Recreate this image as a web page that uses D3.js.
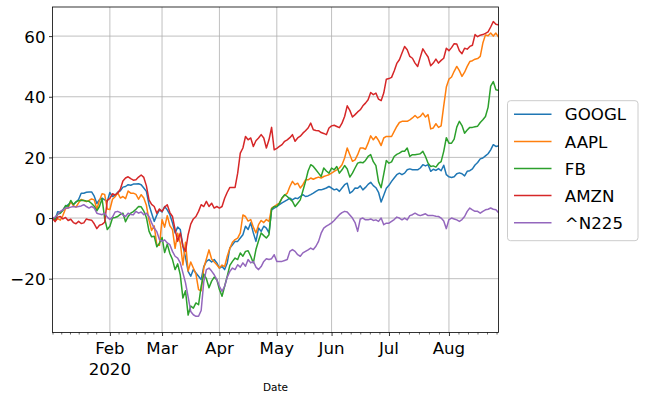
<!DOCTYPE html>
<html><head><meta charset="utf-8">
<script src="https://cdn.jsdelivr.net/npm/d3@7"></script>
<style>
body{margin:0;background:#fff}
svg{display:block}
text{font-family:"DejaVu Sans",sans-serif;fill:#000}
</style>
</head><body>
<svg id="chart" width="645" height="400"></svg>
<script>
// ---------- data (percent change since first day) ----------
const seriesNames = ["GOOGL", "AAPL", "FB", "AMZN", "^N225"];
const seriesColors = ["#1f77b4", "#ff7f0e", "#2ca02c", "#d62728", "#9467bd"];

const googl = [
 0,-0.5,2.1,1.9,2.7,3.7,4.4,5.2,4.5,5.2,6.1,8.2,8.2,8.5,8.6,8.6,7.2,4.8,6.1,6.6,6.0,5.5,
 8.4,7.1,7.5,8.5,9.0,10.2,10.4,11.0,10.8,11.2,11.2,11.3,11.0,9.9,8.8,4.4,1.6,-1.1,1.0,2.7,
 2.0,3.8,2.7,1.1,-1.6,-4.9,-3.0,-3.8,-9.3,-13.0,-17.6,-19.2,-17.0,-18.1,-19.2,-20.3,-16.0,-14.3,-13.7,-14.5,-13.7,-14.8,
 -16.5,-16.0,-17.0,-14.8,-9.9,-8.8,-7.7,-7.7,-6.6,-5.5,-2.7,-3.8,-1.6,-4.9,-7.7,-3.3,-4.4,-2.7,-3.3,-4.9,2.7,3.3,
 3.8,4.4,5.0,5.5,6.0,6.6,6.0,6.6,6.4,7.1,7.7,7.1,7.3,7.7,8.2,8.8,9.3,9.3,9.6,9.9,10.4,
 9.9,9.3,9.6,8.8,9.9,11.0,11.5,8.2,8.8,9.9,9.8,10.6,9.3,10.1,11.1,11.8,10.7,10.0,8.5,5.3,7.5,9.8,
 10.8,12.1,13.2,14.3,14.8,14.3,14.8,15.9,16.2,15.9,15.9,15.9,16.5,17.6,17.2,17.6,15.4,16.1,15.7,16.3,15.6,17.4,14.3,
 13.6,13.4,13.6,14.6,14.9,14.6,13.9,15.4,15.6,16.2,17.5,18.3,19.5,19.8,20.5,21.2,22.5,24.2,23.6,23.8
];
const aapl = [
 0,-1.0,-0.2,-0.7,0.9,3.1,3.3,5.5,4.1,3.6,5.0,6.1,5.8,5.4,5.8,6.3,6.0,2.9,5.8,8.0,7.8,3.0,
 2.8,6.2,7.0,8.3,6.6,7.1,6.4,8.9,8.2,8.2,7.8,6.2,7.7,6.6,4.2,-0.7,-4.1,-2.6,-8.9,-9.0,
 -0.5,-3.0,0.8,-2.5,-3.8,-10.0,-5.0,-8.3,-15.5,-8.0,-17.5,-14.5,-16.5,-18.5,-23.6,-24.0,-16.5,-13.5,-10.5,-13.5,-14.5,-15.4,
 -16.5,-15.5,-16.0,-12.6,-10.0,-8.0,-7.1,-6.6,-4.9,1.0,0.5,-1.0,-0.5,-3.0,-4.9,-2.2,-0.8,-1.5,-0.5,-1.1,3.3,3.8,
 4.4,4.9,6.6,7.5,8.2,10.4,12.1,11.0,11.5,9.9,11.0,12.6,12.6,13.2,12.8,13.2,13.5,13.2,13.7,14.0,14.3,
 14.8,15.4,15.9,16.5,17.6,19.8,23.1,20.9,18.7,19.2,20.9,23.1,23.1,22.7,24.7,27.1,25.8,26.9,25.6,23.9,26.4,26.9,
 26.9,26.9,28.6,30.2,31.5,31.9,31.9,31.9,32.4,33.0,33.8,33.0,33.5,34.6,33.3,34.1,29.4,29.7,31.1,29.9,30.4,37.0,43.2,
 45.8,46.5,48.4,50.0,48.6,46.7,48.1,50.0,51.6,51.9,52.4,52.6,53.3,57.7,60.4,60.1,61.0,60.0,61.0,59.7
];
const fb = [
 0,-0.5,1.3,1.6,2.6,4.1,3.9,5.8,4.4,5.4,5.7,5.9,5.8,5.6,5.5,4.8,3.9,2.4,3.8,6.4,-0.1,-3.8,
 -2.7,0.0,0.2,0.5,1.2,1.6,-1.2,0.5,1.6,2.1,2.9,3.8,3.7,2.3,0.2,-4.3,-6.2,-6.0,-9.5,-8.3,
 -6.4,-11.4,-8.6,-11.7,-13.7,-17.0,-15.1,-18.8,-26.4,-24.0,-32.0,-29.0,-29.7,-28.0,-28.6,-22.5,-18.5,-20.0,-23.0,-20.8,-19.5,-20.3,
 -23.6,-25.8,-22.5,-19.2,-15.6,-14.3,-13.2,-13.7,-11.5,-12.6,-11.0,-10.8,-12.6,-14.8,-10.4,-7.5,-4.9,-5.8,-6.6,-5.5,3.0,3.8,
 3.8,4.9,6.6,7.7,7.1,6.3,5.5,3.8,4.9,6.0,9.0,12.0,15.5,17.6,17.0,15.9,14.8,13.7,16.5,15.5,14.8,
 16.5,15.9,17.0,14.8,15.9,17.3,16.2,13.5,14.8,16.5,18.1,18.4,18.2,19.0,20.3,20.9,18.6,17.3,12.0,10.0,14.5,19.0,
 18.1,18.5,20.3,21.0,21.4,22.0,22.0,23.1,20.3,20.9,20.9,21.0,21.2,22.0,20.3,18.1,17.0,17.2,16.8,18.0,18.6,22.0,26.5,
 24.7,24.7,26.0,30.0,31.9,30.5,28.0,29.0,29.9,29.9,30.1,30.3,31.5,32.4,33.5,36.5,43.5,45.0,42.3,42.1
];
const amzn = [
 0,-1.2,0.3,0.5,-0.3,0.2,-0.8,-0.4,-1.5,-1.9,-1.1,-1.8,-1.6,-0.3,-0.6,-0.7,-1.9,-3.5,-2.4,-2.1,-1.4,5.8,
 6.5,8.0,7.6,8.2,9.5,12.2,13.2,13.6,13.0,12.5,12.6,13.5,14.2,13.4,10.6,6.0,4.5,3.8,1.6,3.0,
 2.2,3.6,4.4,1.8,0.5,-3.8,-7.7,-4.9,-9.3,-11.0,-5.5,-2.0,-0.3,0.5,2.2,4.4,3.8,5.5,3.8,4.9,3.3,3.8,
 3.3,3.8,6.5,8.5,10.1,10.1,10.1,14.8,21.4,23.1,26.9,25.8,26.4,23.6,25.5,26.4,27.5,26.4,23.1,25.8,29.9,22.5,
 23.0,23.6,24.2,25.3,25.8,26.5,27.5,25.3,26.4,27.0,28.0,28.8,29.7,31.3,29.1,28.9,28.8,28.2,27.9,27.5,29.7,
 30.4,30.6,30.2,29.8,31.3,33.5,37.0,35.5,33.3,34.1,35.0,35.7,37.0,37.9,39.0,41.4,40.7,41.2,39.2,38.7,41.2,45.8,
 46.0,46.4,48.5,51.0,52.2,54.4,56.6,55.5,53.3,52.7,51.1,50.0,53.0,55.8,54.4,53.1,50.2,51.1,52.4,51.1,52.0,52.7,56.0,
 55.2,56.2,57.5,57.4,55.2,54.2,56.0,55.7,56.6,57.0,60.5,59.8,60.3,60.5,60.9,61.4,63.0,64.8,63.9,63.7
];
const n225 = [
 0,0.3,1.2,2.2,2.7,3.3,3.3,3.6,3.8,3.6,3.8,4.0,4.4,3.8,3.3,3.8,3.3,1.6,1.3,1.1,1.6,0.3,
 -0.5,0.3,2.0,2.2,1.8,1.0,0.5,1.6,1.2,1.1,2.2,1.6,2.0,1.1,1.6,0.5,-1.6,-3.3,-4.5,-7.1,
 -7.7,-7.2,-8.2,-8.8,-11.0,-12.6,-13.2,-14.8,-18.1,-21.4,-26.0,-30.8,-31.9,-32.4,-32.4,-30.5,-21.0,-17.0,-16.5,-17.5,-18.7,-20.3,
 -22.5,-24.2,-22.5,-19.5,-17.6,-16.5,-17.0,-15.4,-16.2,-14.8,-15.9,-13.7,-14.8,-14.3,-16.2,-17.0,-16.0,-14.3,-13.4,-13.7,-13.4,-12.1,
 -14.3,-14.3,-14.3,-14.0,-13.7,-11.0,-10.4,-11.0,-12.1,-12.6,-11.5,-11.0,-10.5,-9.9,-10.4,-9.3,-7.7,-5.0,-3.3,-2.7,-2.2,
 -1.6,-0.8,0.2,1.1,1.8,2.2,2.0,1.0,0.0,-1.5,-4.4,-0.3,0.0,-0.6,-0.6,-0.3,-0.8,-0.6,-1.1,0.0,-2.2,-1.7,
 -1.7,-1.1,-0.5,0.3,0.0,-0.6,0.0,-0.6,0.8,1.1,1.6,1.1,0.8,1.1,1.4,0.8,0.8,0.8,0.6,0.5,0.0,-1.0,-3.5,
 -0.5,0.0,-0.3,-0.6,-1.1,-0.5,0.5,2.2,3.3,2.7,2.2,2.2,1.6,2.2,2.7,2.9,3.3,2.9,2.7,1.8
];
const seriesValues = [googl, aapl, fb, amzn, n225];

const yTickValues = [-20, 0, 20, 40, 60];
const yearLabel = "2020";
const xLabel = "Date";
// minor tick positions (business-day index) outside the first/last full month
const minorHead = [0, 3.35, 6.7, 10.05, 13.4, 16.75];
const minorTailStep = 3.65;

// ---------- business-day calendar ----------
const days = d3.timeDay.range(new Date(2020, 0, 2), new Date(2020, 7, 29))
  .filter(d => d.getDay() !== 0 && d.getDay() !== 6);
const n = days.length;
const majorIdx = [];
days.forEach((d, i) => { if (i > 0 && d.getMonth() !== days[i - 1].getMonth()) majorIdx.push(i); });
const monthFmt = d3.timeFormat("%b");

const minorIdx = minorHead.slice();
for (let k = 0; k < majorIdx.length - 1; k++) {
  const a = majorIdx[k], b = majorIdx[k + 1];
  for (let j = 1; j < 6; j++) minorIdx.push(a + (b - a) * j / 6);
}
for (let j = 1; j < 6; j++) {
  const v = majorIdx[majorIdx.length - 1] + minorTailStep * j;
  if (v <= n - 1 + 0.01) minorIdx.push(v);
}

// ---------- layout ----------
const L = 52.5, R = 498.5, T = 7, B = 332.5;
const svg = d3.select("#chart");
const x = d3.scaleLinear().domain([0, n - 1]).range([L, R]);
const y = d3.scaleLinear().domain([-37.75, 69.6]).range([B, T]);

// grid
const grid = svg.append("g").attr("stroke", "#b0b0b0").attr("stroke-width", 0.8);
grid.selectAll("line.gx").data(majorIdx).join("line")
  .attr("x1", d => x(d)).attr("x2", d => x(d)).attr("y1", T).attr("y2", B);
grid.selectAll("line.gy").data(yTickValues).join("line")
  .attr("x1", L).attr("x2", R).attr("y1", d => y(d)).attr("y2", d => y(d));

// lines
svg.append("clipPath").attr("id", "clip").append("rect")
  .attr("x", L).attr("y", T).attr("width", R - L).attr("height", B - T);
const line = d3.line().x((d, i) => x(i)).y(d => y(d));
const lg = svg.append("g").attr("clip-path", "url(#clip)");
seriesValues.forEach((vals, s) => {
  lg.append("path").datum(vals)
    .attr("d", line)
    .attr("fill", "none")
    .attr("stroke", seriesColors[s])
    .attr("stroke-width", 1.5)
    .attr("stroke-linejoin", "round")
    .attr("stroke-linecap", "square");
});

// frame
svg.append("rect").attr("x", L).attr("y", T).attr("width", R - L).attr("height", B - T)
  .attr("fill", "none").attr("stroke", "#000").attr("stroke-width", 0.8);

// y axis
const yAxis = d3.axisLeft(y).tickValues(yTickValues).tickSize(3.5).tickPadding(3.5)
  .tickFormat(d => d < 0 ? "\u2212" + Math.abs(d) : String(d));
const gy = svg.append("g").attr("transform", `translate(${L},0)`).call(yAxis);
gy.select(".domain").remove();
gy.selectAll(".tick line").attr("stroke", "#000").attr("stroke-width", 0.8);
gy.selectAll(".tick text").attr("font-size", "16.67px").attr("font-family", "DejaVu Sans").attr("dy", "0.36em");

// x axis major
const xAxis = d3.axisBottom(x).tickValues(majorIdx).tickSize(3.5).tickPadding(3.5).tickFormat("");
const gx = svg.append("g").attr("transform", `translate(0,${B})`).call(xAxis);
gx.select(".domain").remove();
gx.selectAll(".tick line").attr("stroke", "#000").attr("stroke-width", 0.8);
// x minor
const xMinor = d3.axisBottom(x).tickValues(minorIdx).tickSize(2).tickFormat("");
const gxm = svg.append("g").attr("transform", `translate(0,${B})`).call(xMinor);
gxm.select(".domain").remove();
gxm.selectAll(".tick line").attr("stroke", "#000").attr("stroke-width", 0.6);

// x labels
const xl = svg.append("g").attr("font-size", "16.67px").attr("text-anchor", "middle");
majorIdx.forEach((idx, k) => {
  xl.append("text").attr("x", x(idx)).attr("y", 354.3).text(monthFmt(days[idx]));
  if (k === 0) xl.append("text").attr("x", x(idx)).attr("y", 375).text(yearLabel);
});
svg.append("text").attr("x", (L + R) / 2).attr("y", 391).attr("text-anchor", "middle")
  .attr("font-size", "10.5px").text(xLabel);

// legend
const lgX = 507.5, lgY = 100.7, lgW = 130.5, lgH = 140;
const leg = svg.append("g");
leg.append("rect").attr("x", lgX).attr("y", lgY).attr("width", lgW).attr("height", lgH)
  .attr("rx", 3).attr("fill", "#fff").attr("fill-opacity", 0.8)
  .attr("stroke", "#cccccc").attr("stroke-width", 1);
seriesNames.forEach((name, s) => {
  const cy = 114.3 + s * 27.1;
  leg.append("line").attr("x1", 514).attr("x2", 551.5).attr("y1", cy).attr("y2", cy)
    .attr("stroke", seriesColors[s]).attr("stroke-width", 1.5);
  leg.append("text").attr("x", 564.8).attr("y", cy + 6.1).attr("font-size", "16.67px").text(name);
});
</script>
</body></html>
